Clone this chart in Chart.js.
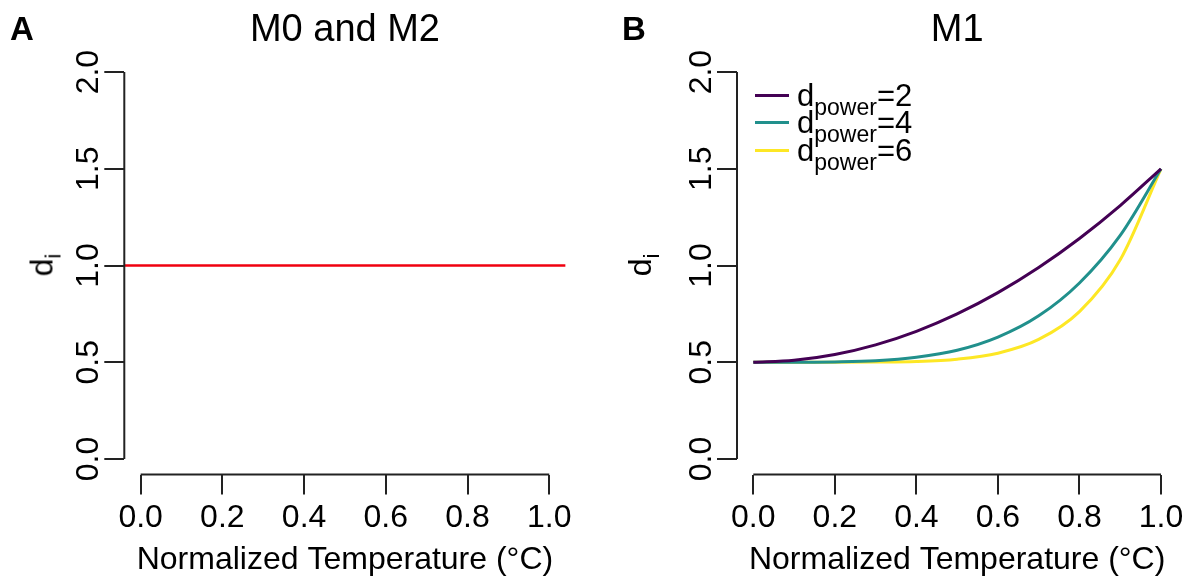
<!DOCTYPE html>
<html>
<head>
<meta charset="utf-8">
<script src="https://cdn.jsdelivr.net/npm/chart.js@4.4.0/dist/chart.umd.min.js"></script>
<style>
  body { margin: 0; background: #fff; font-family: "Liberation Sans", Arial, sans-serif; }
  #page { position: relative; width: 1194px; height: 584px; overflow: hidden; }
  .panel { position: absolute; top: 0; width: 597px; height: 584px; }
  .letter { position: absolute; top: 10px; font-size: 33px; font-weight: bold; color: #000; }
  .ylab { position: absolute; top: 265px; font-size: 32px; color: #000; transform: translate(-50%, -50%) rotate(-90deg); white-space: nowrap; }
  .ylab sub { font-size: 22px; vertical-align: -8px; line-height: 0; }
  #legendB { position: absolute; left: 755px; top: 82px; }
  .leg { display: flex; align-items: center; height: 27.3px; font-size: 31px; color: #000; white-space: nowrap; }
  .leg .txt { display: inline-block; line-height: 27px; }
  .leg sub { font-size: 23px; vertical-align: -9px; line-height: 0; }
  .leg .swatch { display: inline-block; width: 34px; height: 3px; margin-right: 8px; }
</style>
</head>
<body>
<div id="page">
  <div class="panel" style="left:0"><canvas id="chartA" width="597" height="584"></canvas></div>
  <div class="panel" style="left:597px"><canvas id="chartB" width="597" height="584"></canvas></div>
  <div class="letter" style="left:10px">A</div>
  <div class="letter" style="left:622px">B</div>
  <div class="ylab" style="left:42px">d<sub>i</sub></div>
  <div class="ylab" style="left:640px">d<sub>i</sub></div>
  <div id="legendB"></div>
</div>
<script>
// tick labels
const xTickValues = [0, 0.2, 0.4, 0.6, 0.8, 1.0];
const yTickValues = [0, 0.5, 1.0, 1.5, 2.0];

// M0 and M2: constant d_i across the plotting range
const m0Temps = [-0.04, 1.04];
const m0Values = [1.0, 1.0];

// M1: d_i for each d_power
const m1Temps = [0, 0.1, 0.2, 0.3, 0.4, 0.5, 0.6, 0.7, 0.8, 0.9, 1.0];
const power2 = [0.50, 0.51, 0.54, 0.59, 0.66, 0.75, 0.86, 0.99, 1.14, 1.31, 1.50];
const power4 = [0.50, 0.50, 0.502, 0.508, 0.526, 0.562, 0.63, 0.74, 0.91, 1.156, 1.50];
const power6 = [0.50, 0.50, 0.50, 0.501, 0.504, 0.516, 0.547, 0.618, 0.762, 1.03, 1.50];
const powerLabels = ['2', '4', '6'];
const powerColors = ['#440154', '#21908C', '#FDE725'];

Chart.defaults.font.family = '"Liberation Sans", Arial, sans-serif';
Chart.defaults.color = '#000';

const toPoints = (xs, ys) => xs.map((x, i) => ({ x: x, y: ys[i] }));

// R style axes: the axis line only runs from first to last tick
const rAxisLines = {
    id: 'rAxisLines',
    afterDraw(chart) {
        const ctx = chart.ctx;
        const xs = chart.scales.x;
        const ys = chart.scales.y;
        const area = chart.chartArea;
        ctx.save();
        ctx.strokeStyle = '#222';
        ctx.lineWidth = 2;
        ctx.beginPath();
        ctx.moveTo(xs.getPixelForValue(xTickValues[0]), area.bottom);
        ctx.lineTo(xs.getPixelForValue(xTickValues[xTickValues.length - 1]), area.bottom);
        ctx.moveTo(area.left, ys.getPixelForValue(yTickValues[0]));
        ctx.lineTo(area.left, ys.getPixelForValue(yTickValues[yTickValues.length - 1]));
        ctx.stroke();
        ctx.restore();
    }
};

function makeOptions(title, leftWidth, rightPad) {
    return {
        responsive: false,
        animation: false,
        devicePixelRatio: 1,
        layout: { padding: { left: 0, right: rightPad, top: 0, bottom: 5 } },
        elements: { point: { radius: 0 } },
        plugins: {
            legend: { display: false },
            tooltip: { enabled: false },
            title: {
                display: true,
                text: title,
                fullSize: false,
                font: { size: 38, weight: 'normal' },
                padding: { top: 8, bottom: 3 }
            }
        },
        scales: {
            x: {
                type: 'linear',
                min: -0.04,
                max: 1.04,
                afterBuildTicks: (scale) => { scale.ticks = xTickValues.map(v => ({ value: v })); },
                afterFit: (scale) => { scale.height = 104.5; },
                grid: { drawOnChartArea: false, drawTicks: true, tickLength: 20, color: '#222', lineWidth: 2 },
                border: { display: false },
                ticks: {
                    autoSkip: false,
                    maxRotation: 0,
                    padding: 4,
                    font: { size: 32 },
                    callback: (v) => Number(v).toFixed(1)
                },
                title: {
                    display: true,
                    text: 'Normalized Temperature (°C)',
                    font: { size: 32 },
                    padding: 0
                }
            },
            y: {
                type: 'linear',
                min: -0.08,
                max: 2.08,
                afterBuildTicks: (scale) => { scale.ticks = yTickValues.map(v => ({ value: v })); },
                afterFit: (scale) => { scale.width = leftWidth; },
                grid: { drawOnChartArea: false, drawTicks: true, tickLength: 20, color: '#222', lineWidth: 2 },
                border: { display: false },
                ticks: {
                    autoSkip: false,
                    minRotation: 90,
                    maxRotation: 90,
                    crossAlign: 'center',
                    padding: -7,
                    font: { size: 32 },
                    callback: (v) => Number(v).toFixed(1)
                }
            }
        }
    };
}

// Panel A
const chartA = new Chart(document.getElementById('chartA').getContext('2d'), {
    type: 'line',
    data: {
        datasets: [{
            label: 'M0 and M2',
            data: toPoints(m0Temps, m0Values),
            borderColor: '#F0000F',
            borderWidth: 2.5
        }]
    },
    options: makeOptions('M0 and M2', 124.3, 31.4),
    plugins: [rAxisLines]
});

// Panel B
const powerSeries = [power2, power4, power6];
const chartB = new Chart(document.getElementById('chartB').getContext('2d'), {
    type: 'line',
    data: {
        datasets: powerSeries.map((vals, i) => ({
            label: powerLabels[i],
            data: toPoints(m1Temps, vals),
            borderColor: powerColors[i],
            borderWidth: 3,
            cubicInterpolationMode: 'monotone'
        }))
    },
    options: makeOptions('M1', 140, 16.7),
    plugins: [rAxisLines]
});

// legend with subscripts, built from the datasets
const legendB = document.getElementById('legendB');
chartB.data.datasets.forEach(ds => {
    const row = document.createElement('div');
    row.className = 'leg';
    row.innerHTML = '<span class="swatch" style="background:' + ds.borderColor + '"></span>'
        + '<span class="txt">d<sub>power</sub>=' + ds.label + '</span>';
    legendB.appendChild(row);
});
</script>
</body>
</html>
